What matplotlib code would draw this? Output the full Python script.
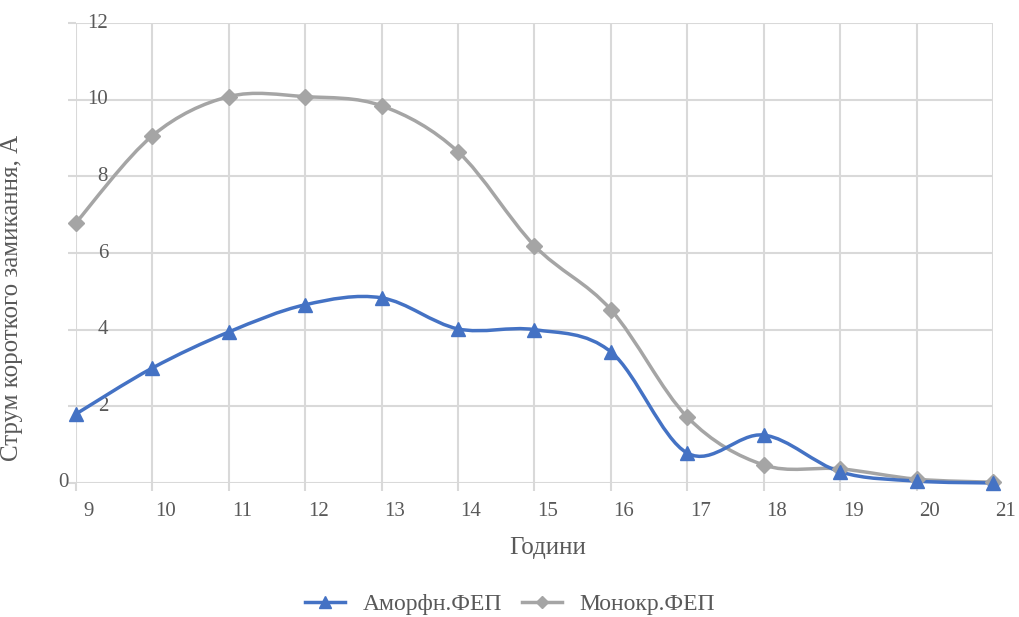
import numpy as np
import matplotlib
matplotlib.use("Agg")
import matplotlib.pyplot as plt
from matplotlib.path import Path
from matplotlib.patches import PathPatch
from matplotlib.lines import Line2D
import matplotlib.transforms as mtransforms

hours = [9, 10, 11, 12, 13, 14, 15, 16, 17, 18, 19, 20, 21]
amorph = [1.80, 3.00, 3.94, 4.65, 4.83, 4.02, 4.00, 3.42, 0.78, 1.25, 0.29, 0.05, 0.00]
monocr = [6.79, 9.06, 10.08, 10.08, 9.84, 8.64, 6.19, 4.52, 1.72, 0.47, 0.37, 0.10, 0.02]
series_names = ["Аморфн.ФЕП", "Монокр.ФЕП"]
y_ticks = [0, 2, 4, 6, 8, 10, 12]
x_label = "Години"
y_label = "Струм короткого замикання, А"

plt.rcParams['font.family'] = ['Liberation Serif', 'DejaVu Serif']
TXT = '#595959'
GRID = '#d9d9d9'
BLUE = '#4472C4'
GRAY = '#A5A5A5'

fig = plt.figure(figsize=(10.2, 6.17), dpi=100)
ax = fig.add_axes([0.0745, 0.2172, 0.899, 0.7455])
ax.set_xlim(9, 21)
ax.set_ylim(0, 12)
for s in ax.spines.values():
    s.set_visible(False)
ax.set_xticks(hours)
ax.set_yticks(y_ticks)
ax.grid(True, color=GRID, linewidth=1.5)
ax.set_axisbelow(True)
ax.tick_params(axis='both', length=6, width=1.5, color=GRID, labelcolor=TXT, labelsize=15)
ax.tick_params(axis='x', pad=8)
ax.set_yticklabels([])
# x tick labels are shifted a bit to the right in the reference
off = mtransforms.ScaledTranslation(13 / 100, 0, fig.dpi_scale_trans)
for lab in ax.get_xticklabels():
    lab.set_transform(lab.get_transform() + off)
# y tick labels (custom placement as in reference)
ytr = ax.get_yaxis_transform()
for v in y_ticks:
    if v == 0:
        ax.text(-0.008, v, str(v), transform=ytr, ha='right', va='center',
                color=TXT, fontsize=15)
    else:
        ax.text(0.035, v, str(v), transform=ytr, ha='right', va='center',
                color=TXT, fontsize=15)


def smooth_path(xs, ys):
    P = np.column_stack([xs, ys]).astype(float)
    n = len(P)
    verts = [P[0]]
    codes = [Path.MOVETO]
    for i in range(n - 1):
        p0 = P[i - 1] if i > 0 else P[i]
        p1 = P[i]
        p2 = P[i + 1]
        p3 = P[i + 2] if i + 2 < n else P[i + 1]
        c1 = p1 + (p2 - p0) / 6.0
        c2 = p2 - (p3 - p1) / 6.0
        verts += [c1, c2, p2]
        codes += [Path.CURVE4] * 3
    return Path(verts, codes)


for ys, col, mk, ms in [(monocr, GRAY, 'D', 8), (amorph, BLUE, '^', 10)]:
    ax.add_patch(PathPatch(smooth_path(hours, ys), facecolor='none',
                           edgecolor=col, linewidth=2.5, zorder=3, clip_on=False))
    ax.plot(hours, ys, linestyle='none', marker=mk, markersize=ms, color=col,
            zorder=4, clip_on=False)

ax.set_xlabel(x_label, color=TXT, fontsize=18)
ax.xaxis.set_label_coords(0.514, -0.118)
ax.set_ylabel(y_label, color=TXT, fontsize=18)
ax.yaxis.set_label_coords(-0.058, 0.402)

handles = [Line2D([], [], color=BLUE, linewidth=2.5, marker='^', markersize=8),
           Line2D([], [], color=GRAY, linewidth=2.5, marker='D', markersize=6)]
leg = fig.legend(handles, series_names, loc='center', bbox_to_anchor=(0.5, 0.021),
                 ncol=2, frameon=False, fontsize=17, labelcolor=TXT,
                 handlelength=1.7, handletextpad=0.75, columnspacing=0.85)

fig.savefig("out.png", dpi=100)
